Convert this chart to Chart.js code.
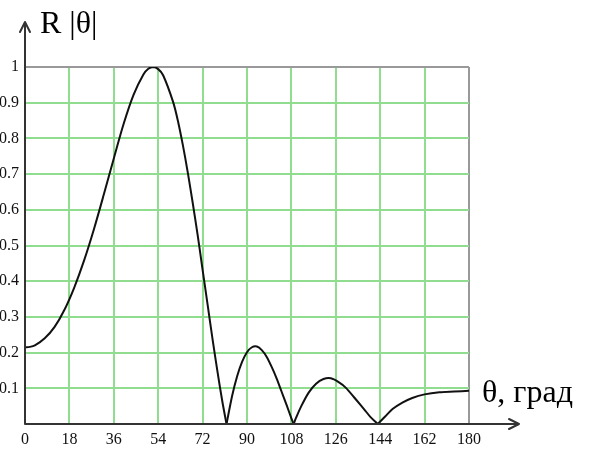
<!DOCTYPE html>
<html>
<head>
<meta charset="utf-8">
<script src="https://cdn.jsdelivr.net/npm/chart.js@4.4.0/dist/chart.umd.min.js"></script>
<style>
    body { margin: 0; background: #fff; }
</style>
</head>
<body>
<canvas id="myChart" width="593" height="456"></canvas>
<script>
// theta in degrees and |R(theta)|, zeros included
var thetas = [0, 2, 4, 8, 12, 16, 20, 24, 28, 32, 36, 40, 44, 48, 50, 52, 54, 56, 60, 62, 64, 66, 68, 70, 72, 74, 76, 78, 80, 81.7,
    84, 86, 88, 90, 92, 94, 96, 98, 100, 102, 104, 106, 108, 108.9,
    110, 112, 115, 118, 121, 124, 127, 130, 134, 138, 140, 143,
    146, 149, 153, 157, 162, 168, 174, 180];
var values = [0.215, 0.216, 0.220, 0.240, 0.272, 0.320, 0.383, 0.459, 0.547, 0.644, 0.744, 0.841, 0.922, 0.979, 0.995, 1.000, 0.994, 0.977, 0.903, 0.849, 0.781, 0.704, 0.619, 0.529, 0.432, 0.336, 0.239, 0.148, 0.063, 0,
    0.080, 0.134, 0.174, 0.201, 0.215, 0.217, 0.207, 0.188, 0.160, 0.128, 0.091, 0.054, 0.016, 0,
    0.019, 0.050, 0.088, 0.113, 0.126, 0.128, 0.118, 0.102, 0.070, 0.037, 0.020, 0,
    0.021, 0.042, 0.060, 0.073, 0.083, 0.089, 0.091, 0.093];

var xTicks = [0, 18, 36, 54, 72, 90, 108, 126, 144, 162, 180];
var yTicks = [0.1, 0.2, 0.3, 0.4, 0.5, 0.6, 0.7, 0.8, 0.9, 1];

var yTitle = 'R |θ|';
var xTitle = 'θ, град';

var serif = "'Liberation Serif', 'Times New Roman', serif";

// split the curve into lobes at the zeros so the cusps stay sharp
var lobes = [];
var cur = [];
for (var i = 0; i < thetas.length; i++) {
    cur.push({ x: thetas[i], y: values[i] });
    if (values[i] === 0 && i > 0) {
        lobes.push(cur);
        cur = [{ x: thetas[i], y: 0 }];
    }
}
lobes.push(cur);

var datasets = lobes.map(function(pts) {
    return {
        data: pts,
        borderColor: '#111',
        borderWidth: 2,
        pointRadius: 0,
        fill: false,
        tension: 0.3
    };
});

var gridColor = function(edge) {
    return function(ctx) {
        if (!ctx.tick) return '#90dd90';
        if (ctx.tick.value === 0) return 'rgba(0,0,0,0)';
        if (Math.abs(ctx.tick.value - edge) < 1e-6) return '#999';
        return '#90dd90';
    };
};

var axesPlugin = {
    id: 'axes',
    afterDraw: function(chart) {
        var c = chart.ctx;
        var a = chart.chartArea;
        c.save();
        c.strokeStyle = '#333';
        c.lineWidth = 2;
        c.lineCap = 'round';
        c.lineJoin = 'round';
        // y axis with arrow
        c.beginPath();
        c.moveTo(a.left, a.bottom);
        c.lineTo(a.left, 22);
        c.moveTo(a.left - 5, 32);
        c.lineTo(a.left, 22);
        c.lineTo(a.left + 5, 32);
        // x axis with arrow
        c.moveTo(a.left, a.bottom);
        c.lineTo(519, a.bottom);
        c.moveTo(509, a.bottom - 5);
        c.lineTo(519, a.bottom);
        c.lineTo(509, a.bottom + 5);
        c.stroke();

        c.fillStyle = '#000';
        c.font = '32px ' + serif;
        c.textAlign = 'left';
        c.textBaseline = 'alphabetic';
        c.fillText(yTitle, 40, 33);
        c.fillText(xTitle, 482, 402);
        c.restore();
    }
};

var main = function() {
    var ctx = document.getElementById('myChart');
    new Chart(ctx, {
        type: 'line',
        data: { datasets: datasets },
        options: {
            responsive: false,
            animation: false,
            devicePixelRatio: 1,
            layout: {
                padding: { top: 67, right: 124, left: 0, bottom: 0 }
            },
            plugins: {
                legend: { display: false },
                tooltip: { enabled: false }
            },
            scales: {
                x: {
                    type: 'linear',
                    min: 0,
                    max: 180,
                    afterFit: function(s) { s.height = 32; },
                    afterBuildTicks: function(s) {
                        s.ticks = xTicks.map(function(v) { return { value: v }; });
                    },
                    border: { display: false },
                    grid: { color: gridColor(180), lineWidth: 2, drawTicks: false },
                    ticks: {
                        padding: 6,
                        color: '#111',
                        font: { family: serif, size: 16 },
                        maxRotation: 0
                    }
                },
                y: {
                    type: 'linear',
                    min: 0,
                    max: 1,
                    afterFit: function(s) { s.width = 25; },
                    afterBuildTicks: function(s) {
                        s.ticks = [{ value: 0 }].concat(yTicks.map(function(v) { return { value: v }; }));
                    },
                    border: { display: false },
                    grid: { color: gridColor(1), lineWidth: 2, drawTicks: false },
                    ticks: {
                        padding: 6,
                        color: '#111',
                        font: { family: serif, size: 16 },
                        callback: function(v) { return v === 0 ? '' : String(Math.round(v * 10) / 10); }
                    }
                }
            }
        },
        plugins: [axesPlugin]
    });
};

main();
</script>
</body>
</html>
